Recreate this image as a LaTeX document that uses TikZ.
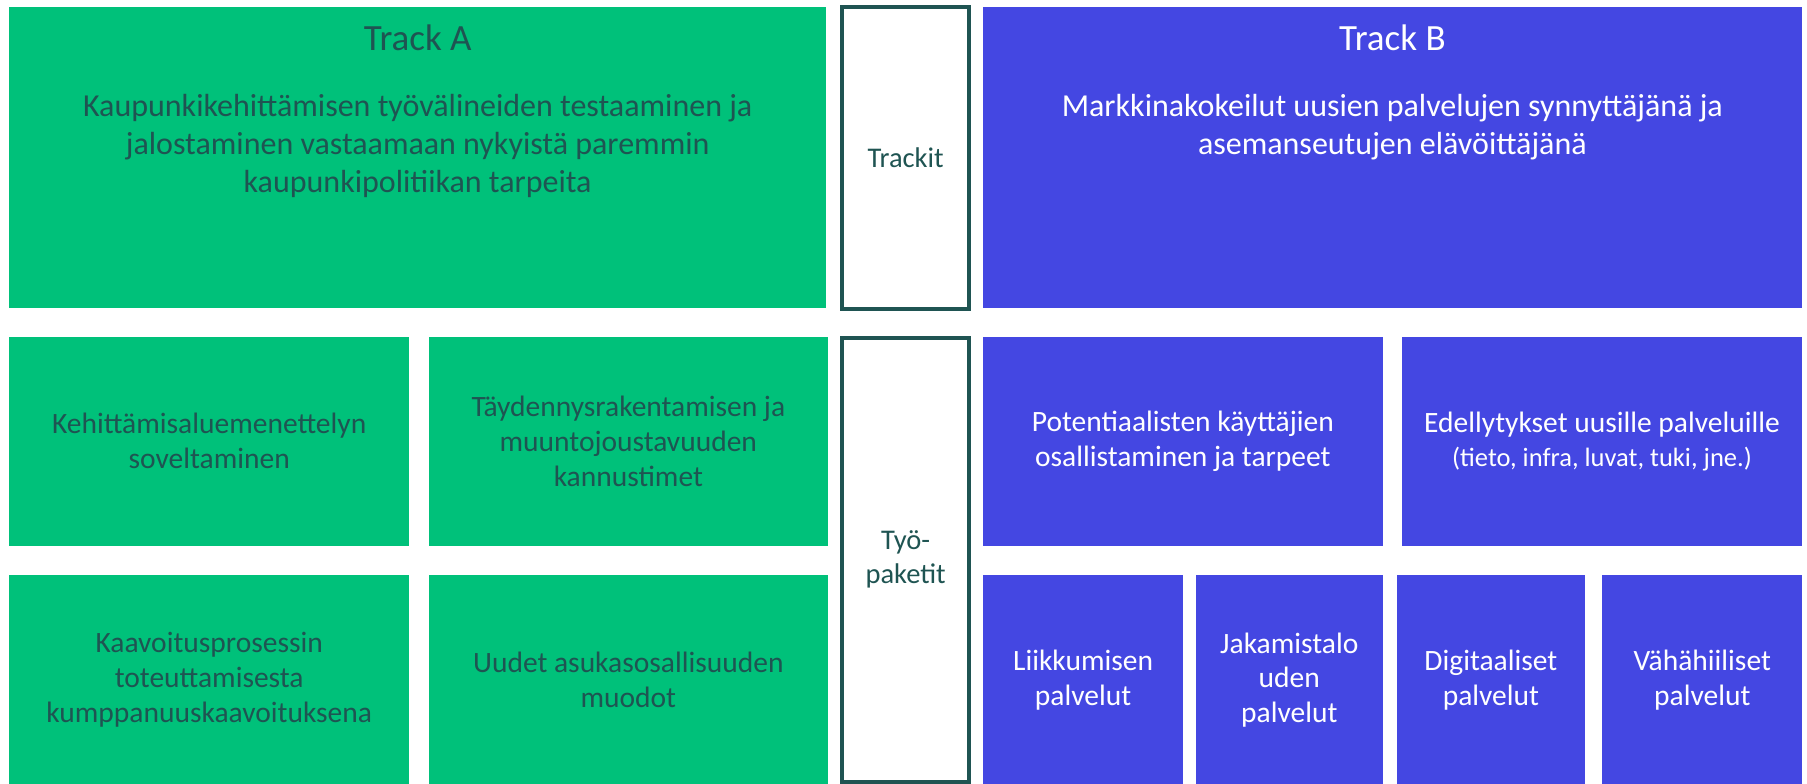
\documentclass[tikz,border=0pt]{standalone}
\usepackage{fontspec}
\setmainfont{Carlito}
\usepackage{tikz}
\usetikzlibrary{positioning}
\definecolor{trackgreen}{HTML}{00C17A}
\definecolor{trackblue}{HTML}{4447E2}
\definecolor{darkteal}{HTML}{1F5452}

\begin{document}
\begin{tikzpicture}[x=1pt, y=-1pt,
    box/.style={anchor=north west, inner sep=0pt, align=center},
    greenbox/.style={box, fill=trackgreen, text=darkteal, font=\fontsize{29.5}{35}\selectfont},
    bluebox/.style={box, fill=trackblue, text=white, font=\fontsize{29.5}{34.5}\selectfont},
    labelbox/.style={box, draw=darkteal, line width=4pt, fill=white, text=darkteal,
        minimum width=127.5pt, font=\fontsize{28.5}{34}\selectfont},
    title/.style={inner sep=0pt, anchor=base, font=\fontsize{37}{45}\selectfont},
    body/.style={inner sep=0pt, anchor=north, align=center, font=\fontsize{32}{38}\selectfont}]

    \useasboundingbox (0,0) rectangle (1807,784);

    % TRACKS
    % -----------------

    \node[greenbox, minimum width=817pt, minimum height=301pt] (track_a) at (9,7) {};
    \node[labelbox, minimum height=302pt, right=13.5pt of track_a] (trackit) {Trackit};
    \node[bluebox, minimum width=818.5pt, minimum height=301pt, right=11.5pt of trackit] (track_b) {};

    \node[title, text=darkteal] (title_a) at ([yshift=-44pt]track_a.north) {Track A};
    \node[body, text=darkteal, below=43pt of title_a.base] (body_a)
        {Kaupunkikehittämisen työvälineiden testaaminen ja\\
         jalostaminen vastaamaan nykyistä paremmin\\
         kaupunkipolitiikan tarpeita};

    \node[title, text=white] (title_b) at ([yshift=-44pt]track_b.north) {Track B};
    \node[body, text=white, below=43pt of title_b.base] (body_b)
        {Markkinakokeilut uusien palvelujen synnyttäjänä ja\\
         asemanseutujen elävöittäjänä};

    % WORK PACKAGES, TRACK A
    % -----------------

    \node[greenbox, minimum width=400pt, minimum height=209.5pt,
          below=28pt of track_a.south west, anchor=north west] (keh)
        {Kehittämisaluemenettelyn\\soveltaminen};
    \node[greenbox, minimum width=398.5pt, minimum height=209.5pt, right=19.5pt of keh] (tay)
        {Täydennysrakentamisen ja\\muuntojoustavuuden\\kannustimet};
    \node[greenbox, minimum width=400pt, minimum height=210pt, below=28.5pt of keh] (kaa)
        {Kaavoitusprosessin\\toteuttamisesta\\kumppanuuskaavoituksena};
    \node[greenbox, minimum width=398.5pt, minimum height=210pt, right=19.5pt of kaa] (uud)
        {Uudet asukasosallisuuden\\muodot};

    \node[labelbox, minimum height=444pt, below=25pt of trackit] (tyo) {Työ-\\paketit};

    % WORK PACKAGES, TRACK B
    % -----------------

    \node[bluebox, minimum width=399.5pt, minimum height=209.5pt,
          below=28pt of track_b.south west, anchor=north west] (pot)
        {Potentiaalisten käyttäjien\\osallistaminen ja tarpeet};
    \node[bluebox, minimum width=400pt, minimum height=209.5pt, right=19pt of pot] (ede)
        {Edellytykset uusille palveluille\\{\fontsize{26.5}{32}\selectfont(tieto, infra, luvat, tuki, jne.)}};

    % service boxes
    \node[bluebox, minimum width=200pt, minimum height=210pt,
          below=28.5pt of pot.south west, anchor=north west] (lii) {Liikkumisen\\palvelut};
    \node[bluebox, minimum width=187.5pt, minimum height=210pt, right=12pt of lii] (jak)
        {Jakamistalo\\uden\\palvelut};
    \node[bluebox, minimum width=188pt, minimum height=210pt, right=13.5pt of jak] (dig)
        {Digitaaliset\\palvelut};
    \node[bluebox, minimum width=200pt, minimum height=210pt, right=17pt of dig] (vah)
        {Vähähiiliset\\palvelut};

\end{tikzpicture}
\end{document}
